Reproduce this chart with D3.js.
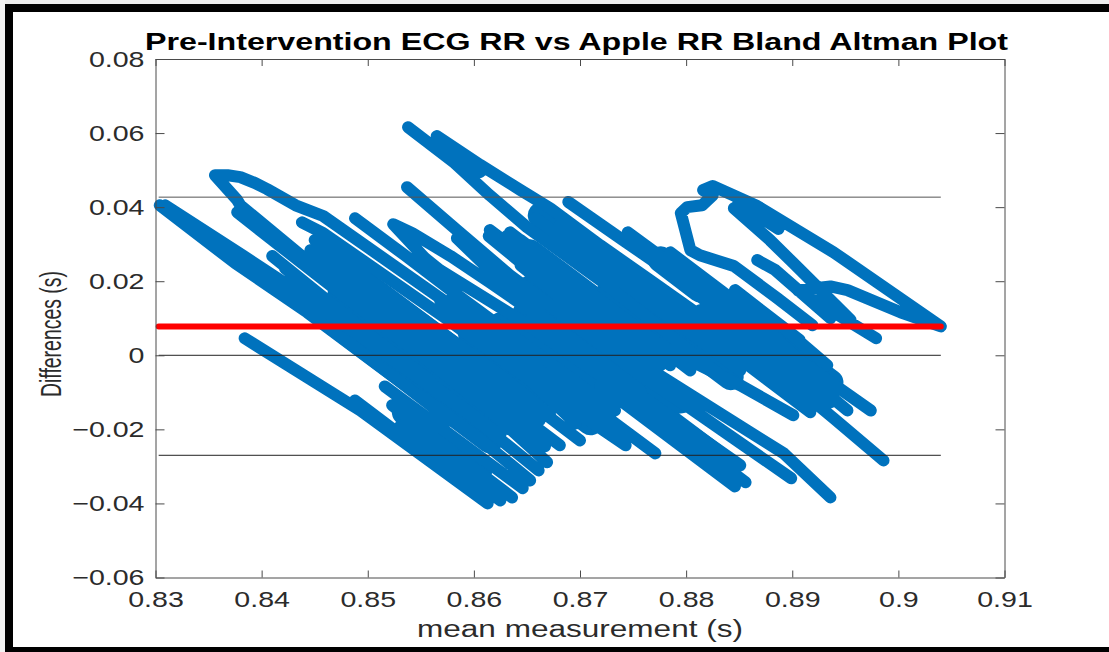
<!DOCTYPE html>
<html><head><meta charset="utf-8">
<script src="https://cdn.jsdelivr.net/npm/d3@7"></script>
<style>html,body{margin:0;padding:0;background:#fff;overflow:hidden}svg{display:block}</style>
</head><body><svg id="c" width="1109" height="652"></svg>
<script>
// Each row is one sweep of the scatter trace; a null breaks the trace.
const meanMeasurement = [
 .8919,.8886,.8845,.8813,.8804,.8795,.8801,.8815,.8825,.8816,.8825,.8867,.8939,.9040,.9002,.8952,.8936,.8905,.8979,null,
 .8933,.8889,.8851,null,
 .8845,.8879,.8901,.8955,null,
 .8849,.8887,null,
 .8867,.8884,.8936,null,
 .8785,.8851,.8907,.8974,null,
 .8986,.8939,.8879,.8813,null,
 .8952,.8889,.8832,null,
 .8901,.8851,.8813,.8757,null,
 .8936,.8892,.8766,.8738,.8644,null,
 .8856,.8785,.8738,.8653,null,
 .8851,.8804,.8757,.8662,null,
 .8653,.8757,.8804,.8899,null,
 .8771,.8719,.8662,.8578,null,
 .8743,.8681,.8625,.8587,null,
 .8669,.8615,.8568,null,
 .8653,.8601,.8549,null,
 .8636,.8578,.8523,null,
 .8384,.8493,.8613,null,
 .8488,.8606,null,
 .8531,.8625,null,
 .8516,.8646,null,
 .8465,.8667,null,
 .8450,.8625,.8672,null,
 .8304,.8375,.8443,.8526,.8578,null,
 .8309,.8382,.8446,.8531,.8597,.8661,null,
 .8719,.8653,.8575,.8458,.8432,.8405,.8394,.8380,.8368,.8356,.8377,.8380,.8437,.8568,.8644,null,
 .8377,.8437,.8531,.8606,null,
 .8438,.8458,.8575,.8653,.8696,null,
 .8446,.8568,.8662,null,
 .8410,.8479,.8549,.8625,null,
 .8422,.8483,.8559,null,
 .8488,.8535,.8578,.8662,.8733,null,
 .8653,.8615,.8578,.8542,.8524,.8554,.8568,.8644,.8719,null,
 .8719,.8846,null,
 .8537,.8584,.8634,.8691,null,
 .8584,.8625,.8662,null,
 .8614,.8653,.8719,null,
 .8631,.8672,.8738,null,
 .8615,.8785,null,
 .8634,.8804,null,
 .8538,.8582,.8615,.8650,.8719,.8785,.8837,null,
 .8565,.8606,.8644,.8672,.8719,.8766,.8813,.8870,null,
 .8578,.8606,null,
 .8658,.8722,.8851,null,
 .8681,.8738,.8917,null,
 .8818,.8936,null,
 .8689,.8738,.8795,.8851,.8898,null,
 .8745,.8813,.8856,null,
 .8644,.8757,null,
 .8568,.8653,.8729,null,
 .8531,.8606,.8681,null,
 .8644,.8719,.8795,null,
 .8681,.8757,.8776,null,
 .8818,.8870,.8917,null,
 .8846,.8907,null,
 .8851,.8898,null,
 .8578,.8644,.8700,null,
 .8502,.8578
];
const differences = [
 .0081,.0154,.0241,.0270,.0284,.0384,.0400,.0405,.0432,.0446,.0457,.0403,.0278,.0078,.0116,.0176,.0186,.0176,.0046,null,
 -.0027,.0081,.0162,null,
 .0397,.0311,.0249,.0095,null,
 .0411,.0341,null,
 .0257,.0230,.0100,null,
 .0278,.0135,-.0014,-.0149,null,
 -.0284,-.0170,-.0027,.0122,null,
 -.0149,0,.0135,null,
 -.0162,-.0081,-.0027,.0054,null,
 -.0384,-.0265,-.0038,.0027,.0243,null,
 -.0343,-.0189,-.0081,.0095,null,
 -.0297,-.0203,-.0108,.0100,null,
 .0176,-.0054,-.0143,-.0332,null,
 -.0265,-.0154,-.0041,.0149,null,
 -.0243,-.0122,0,.0081,null,
 -.0289,-.0149,-.0041,null,
 -.0338,-.0216,-.0108,null,
 -.0384,-.0257,-.0135,null,
 .0046,-.0149,-.0400,null,
 -.0122,-.0378,null,
 -.0189,-.0392,null,
 -.0084,-.0359,null,
 .0189,-.0246,null,
 .0311,-.0054,-.0162,null,
 .0405,.0249,.0116,-.0062,-.0176,null,
 .0405,.0270,.0149,-.0027,-.0162,-.0311,null,
 -.0176,-.0019,.0141,.0376,.0405,.0449,.0465,.0481,.0486,.0486,.0419,.0405,.0270,0,-.0176,null,
 .0386,.0251,.0041,-.0122,null,
 .0359,.0330,.0097,-.0068,-.0184,null,
 .0284,.0027,-.0176,null,
 .0268,.0108,-.0054,-.0216,null,
 .0235,.0095,-.0068,null,
 .0370,.0270,.0176,0,-.0149,null,
 .0122,.0197,.0268,.0330,.0354,.0262,.0230,.0095,-.0054,null,
 -.0081,-.0354,null,
 .0454,.0338,.0216,.0095,null,
 .0316,.0203,.0122,null,
 .0322,.0230,.0095,null,
 .0322,.0230,.0050,null,
 .0338,-.0027,null,
 .0332,-.0041,null,
 .0616,.0519,.0432,.0346,.0203,.0054,-.0065,null,
 .0592,.0514,.0446,.0397,.0297,.0203,.0108,-.0027,null,
 .0554,.0495,null,
 .0370,.0235,-.0041,null,
 .0351,.0235,-.0154,null,
 .0122,-.0127,null,
 .0414,.0316,.0203,.0068,-.0054,null,
 .0332,.0189,.0095,null,
 .0149,-.0095,null,
 .0149,-.0027,-.0189,null,
 .0068,-.0081,-.0243,null,
 .0311,.0149,-.0014,null,
 .0149,0,-.0027,null,
 .0095,-.0014,-.0108,null,
 .0176,.0041,null,
 .0027,-.0081,null,
 .0041,-.0108,-.0230,null,
 .0149,-.0014
];
// Sweeps in the crowded core, where many overlapping beats merge into one solid band.
const coreMean = [
 .8460,.8615,null, .8535,.8606,null, .8474,.8634,null, .8474,.8653,null,
 .8597,.8710,null, .8625,.8719,null, .8648,.8832,null, .8653,.8795,null,
 .8653,.8776,null, .8729,.8842,null, .8823,.8908,null, .8832,.8936,null,
 .8776,.8813,null, .8663,.8719
];
const coreDiff = [
 .0105,-.0230,null, -.0154,-.0305,null, .0162,-.0181,null, .0243,-.0141,null,
 .0062,-.0181,null, .0081,-.0122,null, .0111,-.0284,null, .0181,-.0122,null,
 .0278,.0014,null, .0184,-.0059,null, .0076,-.0108,null, .0149,-.0073,null,
 .0259,.0178,null, .0378,.0257
];
const meanDifference = 0.0078;
const limitsOfAgreement = [0.0427, 0, -0.027];
const limitSpan = [0.8303, 0.904];
const meanSpan = [0.8303, 0.904];
const xTicks = [0.83,0.84,0.85,0.86,0.87,0.88,0.89,0.9,0.91];
const xTickLabels = ["0.83","0.84","0.85","0.86","0.87","0.88","0.89","0.9","0.91"];
const yTicks = [0.08,0.06,0.04,0.02,0,-0.02,-0.04,-0.06];
const yTickLabels = ["0.08","0.06","0.04","0.02","0","\u22120.02","\u22120.04","\u22120.06"];
const titleText = "Pre-Intervention ECG RR vs Apple RR Bland Altman Plot";
const xLabelText = "mean measurement (s)";
const yLabelText = "Differences (s)";

const L=155.5,R=1004.5,T=59,B=577.5, BLUE="#0072BD", AX="#4a4a4a", FONT='"Liberation Sans",Arial,sans-serif';
const svg=d3.select("#c");
const x=d3.scaleLinear().domain([0.83,0.91]).range([L,R]);
const y=d3.scaleLinear().domain([-0.06,0.08]).range([B,T]);

// picture frame
svg.append("rect").attr("width",1109).attr("height",652).attr("fill","#fff");
svg.append("rect").attr("width",1109).attr("height",4).attr("fill","#ececec");
svg.append("rect").attr("width",5).attr("height",652).attr("fill","#f2f2f2");
svg.append("rect").attr("x",5).attr("y",4).attr("width",1104).attr("height",8).attr("fill","#000");
svg.append("rect").attr("x",5).attr("y",4).attr("width",8).attr("height",648).attr("fill","#000");
svg.append("rect").attr("x",5).attr("y",647).attr("width",1104).attr("height",5).attr("fill","#000");

// trace
const line=d3.line().defined(d=>d[0]!==null).x(d=>x(d[0])).y(d=>y(d[1]));
svg.append("path").attr("d",line(coreMean.map((m,i)=>[m,coreDiff[i]]))).attr("fill","none").attr("stroke",BLUE)
  .attr("stroke-width",26).attr("stroke-linecap","round");
svg.append("path").attr("d",line(meanMeasurement.map((m,i)=>[m,differences[i]]))).attr("fill","none").attr("stroke",BLUE)
  .attr("stroke-width",12).attr("stroke-linecap","round").attr("stroke-linejoin","round");

// limits
limitsOfAgreement.forEach((v,i)=>svg.append("line")
  .attr("x1",x(limitSpan[0])).attr("x2",x(limitSpan[1])).attr("y1",y(v)).attr("y2",y(v))
  .attr("stroke",i===0?"#555":"#222").attr("stroke-width",1));
svg.append("line").attr("x1",x(meanSpan[0])).attr("x2",x(meanSpan[1])).attr("y1",y(meanDifference)).attr("y2",y(meanDifference))
  .attr("stroke","#ff0000").attr("stroke-width",6).attr("stroke-linecap","round");

// axes
function stretch(sel,k){sel.each(function(){const n=d3.select(this);n.attr("lengthAdjust","spacingAndGlyphs").attr("textLength",this.getComputedTextLength()*k);});}
function styleAxis(g){g.selectAll("path,line").attr("stroke",AX).attr("stroke-width",1);g.selectAll("text").attr("font-family",FONT).attr("font-size",22.5).attr("fill","#2b2b2b");}
const xAxis=svg.append("g").attr("transform",`translate(0,${B})`)
  .call(d3.axisBottom(x).tickValues(xTicks).tickSize(-7).tickSizeOuter(0).tickPadding(14).tickFormat((d,i)=>xTickLabels[i]));
const yAxis=svg.append("g").attr("transform",`translate(${L},0)`)
  .call(d3.axisLeft(y).tickValues(yTicks).tickSize(-9).tickSizeOuter(0).tickPadding(11).tickFormat((d,i)=>yTickLabels[i]));
const xTop=svg.append("g").attr("transform",`translate(0,${T})`)
  .call(d3.axisTop(x).tickValues(xTicks).tickSize(-7).tickSizeOuter(0).tickFormat(""));
const yRight=svg.append("g").attr("transform",`translate(${R},0)`)
  .call(d3.axisRight(y).tickValues(yTicks).tickSize(-9).tickSizeOuter(0).tickFormat(""));
[xAxis,yAxis,xTop,yRight].forEach(styleAxis);
stretch(xAxis.selectAll("text"),1.27);
stretch(yAxis.selectAll("text"),1.27);

// text
svg.append("text").text(titleText).attr("x",145).attr("y",49.5).attr("font-family",FONT).attr("font-weight","bold")
  .attr("font-size",23).attr("fill","#000").attr("textLength",863).attr("lengthAdjust","spacingAndGlyphs");
svg.append("text").text(xLabelText).attr("x",417).attr("y",637).attr("font-family",FONT)
  .attr("font-size",23).attr("fill","#2b2b2b").attr("textLength",326).attr("lengthAdjust","spacingAndGlyphs");
svg.append("text").text(yLabelText).attr("transform","translate(61,397) rotate(-90)").attr("font-family",FONT)
  .attr("font-size",29).attr("fill","#2b2b2b").attr("textLength",126).attr("lengthAdjust","spacingAndGlyphs");
</script></body></html>
